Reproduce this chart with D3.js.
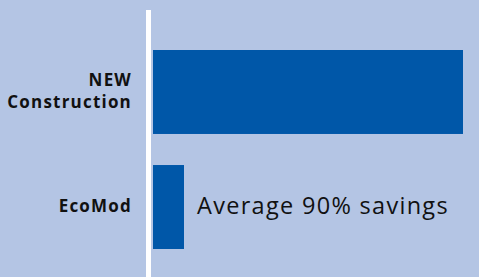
<!DOCTYPE html>
<meta charset="utf-8">
<script src="https://d3js.org/d3.v7.min.js"></script>
<style>
  body { margin: 0; background: #b4c5e4; }
</style>
<div id="chart"></div>
<script>
  // data
  var categories = ["NEW Construction", "EcoMod"];
  var labelLines = [["NEW", "Construction"], ["EcoMod"]];
  var values = [100, 10];
  var note = "Average 90% savings";

  var width = 479, height = 277;

  var svg = d3.select("#chart")
    .append("svg")
      .attr("width", width)
      .attr("height", height);

  svg.append("rect")
    .attr("width", width)
    .attr("height", height)
    .attr("fill", "#b4c5e4");

  var x = d3.scaleLinear()
    .domain([0, 100])
    .range([153, 463]);

  var y = d3.scaleBand()
    .domain(categories)
    .range([50, 249])
    .paddingInner(0.27)
    .paddingOuter(0);

  // bars
  svg.selectAll(".bar")
    .data(categories)
    .enter()
    .append("rect")
      .attr("class", "bar")
      .attr("x", x(0))
      .attr("y", function (d) { return y(d); })
      .attr("width", function (d, i) { return x(values[i]) - x(0); })
      .attr("height", y.bandwidth())
      .attr("fill", "#0057a8");

  // white axis line
  svg.append("line")
    .attr("x1", 148.5).attr("x2", 148.5)
    .attr("y1", 10).attr("y2", height)
    .attr("stroke", "#ffffff")
    .attr("stroke-width", 5);

  // category labels
  categories.forEach(function (c, i) {
    var lines = labelLines[i];
    var mid = y(c) + y.bandwidth() / 2;
    var lh = 22;
    var t = svg.append("text")
      .attr("text-anchor", "end")
      .attr("font-family", "Open Sans, sans-serif")
      .attr("font-weight", "bold")
      .attr("font-size", "17px")
      .attr("letter-spacing", "1.2px")
      .attr("fill", "#111");
    lines.forEach(function (l, j) {
      t.append("tspan")
        .attr("x", 132)
        .attr("y", mid + 5 + (j - (lines.length - 1) / 2) * lh)
        .text(l);
    });
  });

  // annotation next to EcoMod bar
  svg.append("text")
    .attr("x", x(values[1]) + 13)
    .attr("y", y("EcoMod") + y.bandwidth() / 2 + 7)
    .attr("font-family", "Open Sans, sans-serif")
    .attr("font-size", "23.5px")
    .attr("letter-spacing", "1.3px")
    .attr("fill", "#111")
    .text(note);
</script>
